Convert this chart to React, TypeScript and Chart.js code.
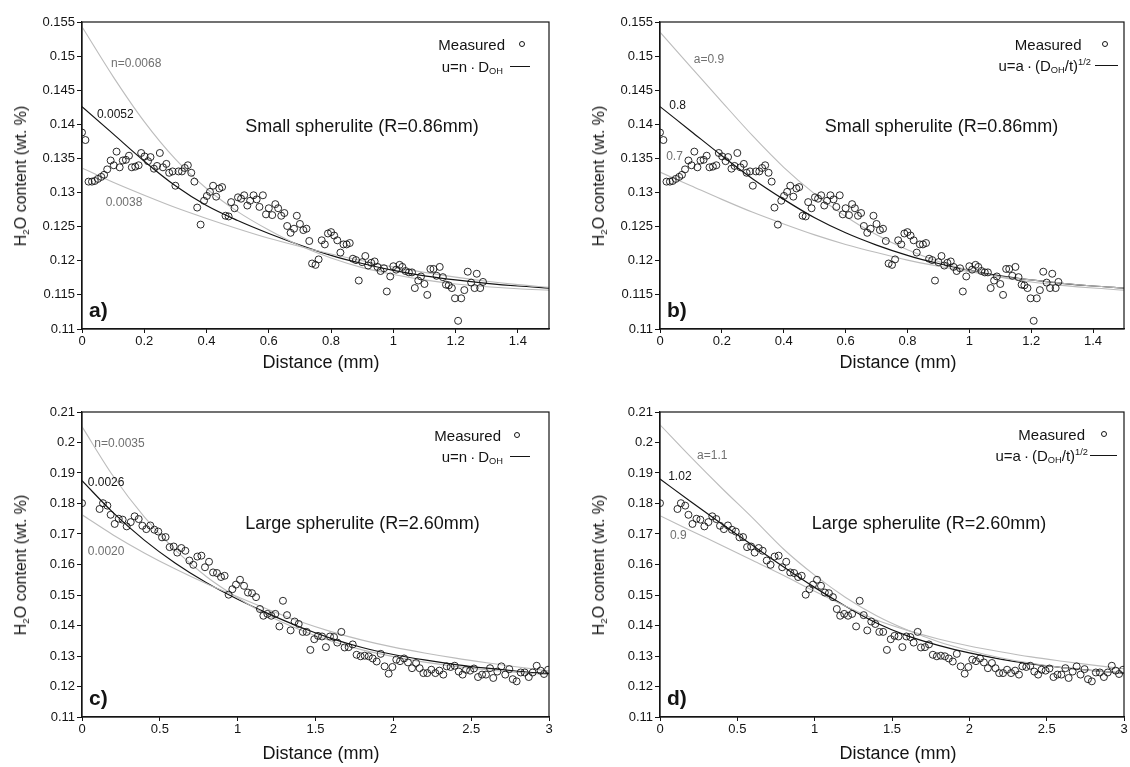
import React, { useEffect, useRef } from "react";
import { Chart, registerables } from "chart.js";
Chart.register(...registerables);

const FONT = '"Liberation Sans", Arial, Helvetica, sans-serif';

// ---------- Measured data ----------
const smallX = [
  0.000,0.011,0.021,0.032,0.041,0.051,0.062,0.071,0.081,0.092,
  0.102,0.111,0.121,0.131,0.141,0.151,0.160,0.171,0.182,0.190,
  0.201,0.212,0.220,0.231,0.241,0.250,0.260,0.271,0.280,0.291,
  0.300,0.310,0.321,0.330,0.340,0.351,0.361,0.370,0.381,0.392,
  0.401,0.411,0.421,0.431,0.441,0.450,0.461,0.471,0.479,0.490,
  0.501,0.511,0.521,0.531,0.540,0.551,0.561,0.570,0.581,0.591,
  0.600,0.611,0.621,0.630,0.640,0.650,0.659,0.670,0.681,0.690,
  0.700,0.711,0.721,0.730,0.739,0.750,0.760,0.770,0.780,0.790,
  0.800,0.810,0.820,0.830,0.840,0.850,0.860,0.870,0.880,0.889,
  0.900,0.910,0.919,0.929,0.940,0.949,0.959,0.970,0.979,0.990,
  1.000,1.009,1.020,1.029,1.039,1.050,1.060,1.069,1.080,1.089,
  1.100,1.109,1.119,1.129,1.139,1.149,1.159,1.169,1.178,1.188,
  1.198,1.208,1.218,1.228,1.239,1.250,1.261,1.268,1.279,1.288,
];
const smallY = [
  0.1388,0.1377,0.1316,0.1316,0.1317,0.1320,0.1323,0.1326,0.1334,0.1347,
  0.1340,0.1360,0.1337,0.1347,0.1348,0.1354,0.1337,0.1338,0.1340,0.1358,
  0.1353,0.1346,0.1352,0.1335,0.1339,0.1358,0.1337,0.1342,0.1329,0.1331,
  0.1310,0.1331,0.1331,0.1336,0.1340,0.1329,0.1316,0.1278,0.1253,0.1288,
  0.1295,0.1301,0.1310,0.1294,0.1306,0.1308,0.1266,0.1265,0.1286,0.1277,
  0.1293,0.1291,0.1296,0.1281,0.1288,0.1296,0.1290,0.1279,0.1296,0.1268,
  0.1277,0.1267,0.1283,0.1277,0.1266,0.1270,0.1251,0.1241,0.1247,0.1266,
  0.1254,0.1245,0.1247,0.1229,0.1196,0.1194,0.1202,0.1230,0.1224,0.1240,
  0.1242,0.1237,0.1230,0.1212,0.1224,0.1224,0.1226,0.1203,0.1201,0.1171,
  0.1198,0.1207,0.1193,0.1197,0.1199,0.1191,0.1185,0.1189,0.1155,0.1177,
  0.1192,0.1187,0.1194,0.1191,0.1185,0.1183,0.1183,0.1160,0.1171,0.1177,
  0.1166,0.1150,0.1188,0.1188,0.1178,0.1191,0.1176,0.1165,0.1164,0.1160,
  0.1145,0.1112,0.1145,0.1157,0.1184,0.1168,0.1160,0.1181,0.1160,0.1169,
];
const largeX = [
  0.000,0.113,0.135,0.163,0.184,0.210,0.236,0.261,0.287,0.313,
  0.338,0.364,0.388,0.413,0.439,0.465,0.490,0.514,0.537,0.563,
  0.589,0.612,0.638,0.664,0.690,0.715,0.741,0.767,0.790,0.816,
  0.842,0.867,0.893,0.916,0.942,0.966,0.989,1.015,1.041,1.066,
  1.092,1.118,1.143,1.165,1.191,1.216,1.242,1.268,1.291,1.317,
  1.340,1.366,1.392,1.418,1.443,1.467,1.492,1.516,1.542,1.567,
  1.593,1.619,1.640,1.666,1.687,1.713,1.739,1.764,1.790,1.816,
  1.842,1.867,1.893,1.919,1.944,1.970,1.994,2.019,2.043,2.069,
  2.094,2.120,2.146,2.169,2.193,2.218,2.244,2.270,2.296,2.321,
  2.343,2.368,2.394,2.420,2.445,2.467,2.493,2.518,2.544,2.570,
  2.595,2.621,2.642,2.668,2.694,2.719,2.745,2.767,2.792,2.818,
  2.844,2.870,2.895,2.921,2.946,2.968,2.994,
];
const largeY = [
  0.1801,0.1782,0.1801,0.1793,0.1763,0.1733,0.1750,0.1747,0.1725,0.1739,
  0.1758,0.1749,0.1727,0.1716,0.1728,0.1714,0.1708,0.1689,0.1690,0.1657,
  0.1659,0.1639,0.1654,0.1645,0.1613,0.1599,0.1626,0.1629,0.1591,0.1609,
  0.1574,0.1572,0.1559,0.1563,0.1501,0.1519,0.1534,0.1550,0.1530,0.1508,
  0.1506,0.1493,0.1454,0.1432,0.1438,0.1432,0.1438,0.1397,0.1481,0.1434,
  0.1384,0.1413,0.1405,0.1379,0.1379,0.1320,0.1355,0.1366,0.1364,0.1329,
  0.1364,0.1362,0.1344,0.1379,0.1328,0.1329,0.1338,0.1304,0.1299,0.1301,
  0.1299,0.1292,0.1282,0.1307,0.1266,0.1242,0.1264,0.1288,0.1283,0.1292,
  0.1279,0.1260,0.1277,0.1260,0.1244,0.1244,0.1255,0.1244,0.1252,0.1239,
  0.1266,0.1264,0.1268,0.1249,0.1239,0.1255,0.1252,0.1259,0.1231,0.1239,
  0.1239,0.1260,0.1228,0.1249,0.1266,0.1239,0.1257,0.1224,0.1217,0.1246,
  0.1246,0.1231,0.1246,0.1268,0.1252,0.1241,0.1255,
];

// ---------- Model curves ----------
const curveXSmall = [0,0.1,0.2,0.3,0.4,0.5,0.6,0.7,0.8,0.9,1.0,1.1,1.2,1.3,1.4,1.5];
const curveN0068 = [0.1543,0.1470,0.1404,0.1349,0.1306,0.1272,0.1245,0.1222,0.1204,0.1190,0.1180,0.1172,0.1166,0.1162,0.1159,0.1157];
const curveN0052 = [0.1426,0.1386,0.1346,0.1310,0.1281,0.1259,0.1240,0.1223,0.1208,0.1196,0.1186,0.1178,0.1172,0.1167,0.1163,0.1160];
const curveN0038 = [0.1336,0.1315,0.1296,0.1278,0.1262,0.1247,0.1233,0.1221,0.1210,0.1200,0.1191,0.1183,0.1176,0.1170,0.1165,0.1161];
const curveA09S = [0.1535,0.1484,0.1433,0.1383,0.1337,0.1298,0.1265,0.1238,0.1216,0.1199,0.1186,0.1176,0.1169,0.1164,0.1160,0.1157];
const curveA08S = [0.1426,0.1390,0.1354,0.1320,0.1290,0.1263,0.1241,0.1223,0.1208,0.1196,0.1186,0.1178,0.1172,0.1167,0.1163,0.1160];
const curveA07S = [0.1330,0.1310,0.1290,0.1271,0.1254,0.1238,0.1224,0.1212,0.1201,0.1192,0.1184,0.1177,0.1172,0.1167,0.1163,0.1160];

const curveXLarge = [0,0.2,0.4,0.6,0.8,1.0,1.2,1.4,1.6,1.8,2.0,2.2,2.4,2.6,2.8,3.0];
const curveN0035 = [0.2052,0.1890,0.1756,0.1647,0.1560,0.1491,0.1432,0.1386,0.1349,0.1320,0.1298,0.1280,0.1266,0.1255,0.1246,0.1239];
const curveN0026 = [0.1875,0.1770,0.1680,0.1604,0.1540,0.1486,0.1438,0.1395,0.1358,0.1328,0.1305,0.1287,0.1272,0.1260,0.1250,0.1242];
const curveN0020 = [0.1763,0.1697,0.1638,0.1585,0.1537,0.1494,0.1452,0.1413,0.1380,0.1352,0.1329,0.1310,0.1293,0.1278,0.1264,0.1251];
const curveA11L = [0.2058,0.1952,0.1850,0.1752,0.1650,0.1565,0.1492,0.1432,0.1385,0.1347,0.1318,0.1294,0.1276,0.1262,0.1252,0.1244];
const curveA102L = [0.1880,0.1806,0.1733,0.1662,0.1592,0.1525,0.1463,0.1408,0.1366,0.1335,0.1310,0.1290,0.1274,0.1262,0.1252,0.1244];
const curveA09L = [0.1760,0.1711,0.1662,0.1613,0.1564,0.1512,0.1463,0.1418,0.1384,0.1356,0.1333,0.1314,0.1297,0.1283,0.1270,0.1258];

// ---------- Ticks ----------
const yTicksSmall = [0.11,0.115,0.12,0.125,0.13,0.135,0.14,0.145,0.15,0.155];
const xTicksSmall = [0,0.2,0.4,0.6,0.8,1,1.2,1.4];
const yTicksLarge = [0.11,0.12,0.13,0.14,0.15,0.16,0.17,0.18,0.19,0.2,0.21];
const xTicksLarge = [0,0.5,1,1.5,2,2.5,3];

const GRAY_LINE = "#bcbcbc";
const GRAY_TEXT = "#707070";
const INK = "#141414";

const zip = (xs: number[], ys: number[]) => xs.map((x, i) => ({ x, y: ys[i] }));
const fmt = (v: number) => String(parseFloat(Number(v).toFixed(4)));

const framePlugin = {
  id: "frame",
  afterDraw(chart: any) {
    const { ctx, chartArea: a } = chart;
    ctx.save();
    ctx.strokeStyle = INK;
    ctx.lineWidth = 1.2;
    ctx.strokeRect(a.left, a.top, a.right - a.left, a.bottom - a.top);
    ctx.restore();
  },
};

const curveLabelPlugin = {
  id: "curveLabels",
  afterDatasetsDraw(chart: any, _args: any, opts: any) {
    const items = (opts && opts.items) || [];
    const { ctx } = chart;
    const xs = chart.scales.x;
    const ys = chart.scales.y;
    ctx.save();
    ctx.font = `12px ${FONT}`;
    ctx.textAlign = "left";
    ctx.textBaseline = "middle";
    items.forEach((it: any) => {
      ctx.fillStyle = it.color;
      ctx.fillText(it.text, xs.getPixelForValue(it.x), ys.getPixelForValue(it.y));
    });
    ctx.restore();
  },
};

type Curve = { x: number[]; y: number[]; color: string; width: number };
type Label = { text: string; x: number; y: number; color: string };
type Legend = { measRight: number; measY: number; circleX: number; formRight: number; formY: number; lineX1: number; lineX2: number };
type PanelCfg = {
  left: number; top: number; w: number; h: number; rightPad: number; xScaleH: number;
  xMin: number; xMax: number; xTicks: number[]; yMin: number; yMax: number; yTicks: number[];
  mx: number[]; my: number[]; curves: Curve[]; labels: Label[];
  title: string; titleX: number; titleY: number; letter: string; letterY: number;
  formula: "n" | "a"; legend: Legend; yTitleY: number; xTitleX: number; xTitleY: number;
};

const sub = { fontSize: "0.62em", verticalAlign: "-0.32em", lineHeight: 0 } as React.CSSProperties;
const sup = { fontSize: "0.62em", verticalAlign: "0.6em", lineHeight: 0 } as React.CSSProperties;

function Panel({ cfg }: { cfg: PanelCfg }) {
  const ref = useRef<HTMLCanvasElement | null>(null);
  useEffect(() => {
    if (!ref.current) return;
    const datasets: any[] = [
      {
        type: "scatter",
        data: zip(cfg.mx, cfg.my),
        pointStyle: "circle",
        pointRadius: 3.5,
        pointBorderWidth: 0.9,
        borderColor: INK,
        backgroundColor: "rgba(0,0,0,0)",
        pointBackgroundColor: "rgba(0,0,0,0)",
        pointBorderColor: INK,
      },
      ...cfg.curves.map((c) => ({
        type: "line",
        data: zip(c.x, c.y),
        borderColor: c.color,
        borderWidth: c.width,
        pointRadius: 0,
        showLine: true,
        fill: false,
        cubicInterpolationMode: "monotone",
      })),
    ];
    const tickFont = { size: 13, family: FONT };
    const chart = new Chart(ref.current, {
      type: "scatter",
      data: { datasets },
      plugins: [framePlugin, curveLabelPlugin],
      options: {
        animation: false,
        responsive: false,
        events: [],
        layout: { padding: { left: 0, top: 22, right: cfg.rightPad, bottom: 0 } },
        plugins: {
          legend: { display: false },
          tooltip: { enabled: false },
          curveLabels: { items: cfg.labels },
        } as any,
        scales: {
          x: {
            type: "linear",
            min: cfg.xMin,
            max: cfg.xMax,
            afterBuildTicks: (s: any) => { s.ticks = cfg.xTicks.map((v) => ({ value: v })); },
            afterFit: (s: any) => { s.height = cfg.xScaleH; },
            ticks: { callback: (v: any) => fmt(v), font: tickFont, color: INK, padding: 1, maxRotation: 0, autoSkip: false },
            grid: { drawOnChartArea: false, drawTicks: true, tickLength: 4, color: INK, lineWidth: 1 },
            border: { color: INK, width: 1.2 },
          },
          y: {
            type: "linear",
            min: cfg.yMin,
            max: cfg.yMax,
            afterBuildTicks: (s: any) => { s.ticks = cfg.yTicks.map((v) => ({ value: v })); },
            afterFit: (s: any) => { s.width = 82; },
            ticks: { callback: (v: any) => fmt(v), font: tickFont, color: INK, padding: 2, autoSkip: false },
            grid: { drawOnChartArea: false, drawTicks: true, tickLength: 5, color: INK, lineWidth: 1 },
            border: { color: INK, width: 1.2 },
          },
        },
      } as any,
    });
    return () => chart.destroy();
  }, [cfg]);

  const lg = cfg.legend;
  const abs = { position: "absolute", whiteSpace: "nowrap", color: INK } as React.CSSProperties;
  return (
    <div style={{ position: "absolute", left: cfg.left, top: cfg.top, width: cfg.w, height: cfg.h }}>
      <canvas ref={ref} width={cfg.w} height={cfg.h} style={{ width: cfg.w, height: cfg.h, display: "block" }} />
      {/* y-axis title */}
      <div style={{ ...abs, left: 21, top: cfg.yTitleY, fontSize: 16, transform: "translate(-50%,-50%) rotate(-90deg)" }}>
        H<span style={sub}>2</span>O content (wt. %)
      </div>
      {/* x-axis title */}
      <div style={{ ...abs, left: cfg.xTitleX, top: cfg.xTitleY, fontSize: 18, transform: "translate(-50%,-50%)" }}>
        Distance (mm)
      </div>
      {/* panel title */}
      <div style={{ ...abs, left: cfg.titleX, top: cfg.titleY, fontSize: 18, transform: "translate(-50%,-50%)" }}>
        {cfg.title}
      </div>
      {/* panel letter */}
      <div style={{ ...abs, left: 89, top: cfg.letterY, fontSize: 21, fontWeight: "bold", transform: "translateY(-50%)" }}>
        {cfg.letter}
      </div>
      {/* legend */}
      <div style={{ ...abs, left: lg.measRight, top: lg.measY, fontSize: 15, transform: "translate(-100%,-50%)" }}>
        Measured
      </div>
      <div style={{ position: "absolute", left: lg.circleX - 3, top: lg.measY - 3, width: 6, height: 6, border: `1px solid ${INK}`, borderRadius: "50%", boxSizing: "border-box" }} />
      <div style={{ ...abs, left: lg.formRight, top: lg.formY, fontSize: 15, transform: "translate(-100%,-50%)" }}>
        {cfg.formula === "n" ? (
          <>u=n{"\u2009"}·{"\u2009"}D<span style={sub}>OH</span></>
        ) : (
          <>u=a{"\u2009"}·{"\u2009"}(D<span style={sub}>OH</span>/t)<span style={sup}>1/2</span></>
        )}
      </div>
      <div style={{ position: "absolute", left: lg.lineX1, top: lg.formY, width: lg.lineX2 - lg.lineX1, height: 0, borderTop: `1.2px solid ${INK}` }} />
    </div>
  );
}

const panels: PanelCfg[] = [
  {
    left: 0, top: 0, w: 565, h: 385, rightPad: 16, xScaleH: 56,
    xMin: 0, xMax: 1.5, xTicks: xTicksSmall, yMin: 0.11, yMax: 0.155, yTicks: yTicksSmall,
    mx: smallX, my: smallY,
    curves: [
      { x: curveXSmall, y: curveN0068, color: GRAY_LINE, width: 1.1 },
      { x: curveXSmall, y: curveN0038, color: GRAY_LINE, width: 1.1 },
      { x: curveXSmall, y: curveN0052, color: INK, width: 1.2 },
    ],
    labels: [
      { text: "n=0.0068", x: 0.093, y: 0.1489, color: GRAY_TEXT },
      { text: "0.0052", x: 0.048, y: 0.1414, color: INK },
      { text: "0.0038", x: 0.076, y: 0.1285, color: GRAY_TEXT },
    ],
    title: "Small spherulite (R=0.86mm)", titleX: 362, titleY: 126, letter: "a)", letterY: 310,
    formula: "n",
    legend: { measRight: 505, measY: 44, circleX: 521.5, formRight: 503, formY: 65.5, lineX1: 510, lineX2: 530 },
    yTitleY: 175.5, xTitleX: 321, xTitleY: 362,
  },
  {
    left: 578, top: 0, w: 552, h: 385, rightPad: 6, xScaleH: 56,
    xMin: 0, xMax: 1.5, xTicks: xTicksSmall, yMin: 0.11, yMax: 0.155, yTicks: yTicksSmall,
    mx: smallX, my: smallY,
    curves: [
      { x: curveXSmall, y: curveA09S, color: GRAY_LINE, width: 1.1 },
      { x: curveXSmall, y: curveA07S, color: GRAY_LINE, width: 1.1 },
      { x: curveXSmall, y: curveA08S, color: INK, width: 1.2 },
    ],
    labels: [
      { text: "a=0.9", x: 0.109, y: 0.1495, color: GRAY_TEXT },
      { text: "0.8", x: 0.030, y: 0.1427, color: INK },
      { text: "0.7", x: 0.020, y: 0.1352, color: GRAY_TEXT },
    ],
    title: "Small spherulite (R=0.86mm)", titleX: 363.5, titleY: 126, letter: "b)", letterY: 310,
    formula: "a",
    legend: { measRight: 503.5, measY: 43.5, circleX: 527, formRight: 513, formY: 65, lineX1: 517, lineX2: 540 },
    yTitleY: 175.5, xTitleX: 320, xTitleY: 362,
  },
  {
    left: 0, top: 390, w: 565, h: 377, rightPad: 16, xScaleH: 50,
    xMin: 0, xMax: 3, xTicks: xTicksLarge, yMin: 0.11, yMax: 0.21, yTicks: yTicksLarge,
    mx: largeX, my: largeY,
    curves: [
      { x: curveXLarge, y: curveN0035, color: GRAY_LINE, width: 1.1 },
      { x: curveXLarge, y: curveN0020, color: GRAY_LINE, width: 1.1 },
      { x: curveXLarge, y: curveN0026, color: INK, width: 1.2 },
    ],
    labels: [
      { text: "n=0.0035", x: 0.079, y: 0.1996, color: GRAY_TEXT },
      { text: "0.0026", x: 0.037, y: 0.1869, color: INK },
      { text: "0.0020", x: 0.037, y: 0.1643, color: GRAY_TEXT },
    ],
    title: "Large spherulite (R=2.60mm)", titleX: 362.5, titleY: 132.5, letter: "c)", letterY: 308,
    formula: "n",
    legend: { measRight: 501, measY: 45, circleX: 517, formRight: 503, formY: 66, lineX1: 510, lineX2: 530 },
    yTitleY: 174.5, xTitleX: 321, xTitleY: 363,
  },
  {
    left: 578, top: 390, w: 552, h: 377, rightPad: 6, xScaleH: 50,
    xMin: 0, xMax: 3, xTicks: xTicksLarge, yMin: 0.11, yMax: 0.21, yTicks: yTicksLarge,
    mx: largeX, my: largeY,
    curves: [
      { x: curveXLarge, y: curveA11L, color: GRAY_LINE, width: 1.1 },
      { x: curveXLarge, y: curveA09L, color: GRAY_LINE, width: 1.1 },
      { x: curveXLarge, y: curveA102L, color: INK, width: 1.2 },
    ],
    labels: [
      { text: "a=1.1", x: 0.240, y: 0.1957, color: GRAY_TEXT },
      { text: "1.02", x: 0.053, y: 0.1887, color: INK },
      { text: "0.9", x: 0.064, y: 0.1694, color: GRAY_TEXT },
    ],
    title: "Large spherulite (R=2.60mm)", titleX: 351, titleY: 133, letter: "d)", letterY: 308,
    formula: "a",
    legend: { measRight: 507, measY: 44, circleX: 526, formRight: 510, formY: 65, lineX1: 512, lineX2: 539 },
    yTitleY: 174.5, xTitleX: 320, xTitleY: 363,
  },
];

export default function App() {
  return (
    <div style={{ position: "absolute", left: 0, top: 0, width: 1130, height: 767, background: "#fff", fontFamily: FONT, overflow: "hidden" }}>
      {panels.map((p, i) => (
        <Panel key={i} cfg={p} />
      ))}
    </div>
  );
}
